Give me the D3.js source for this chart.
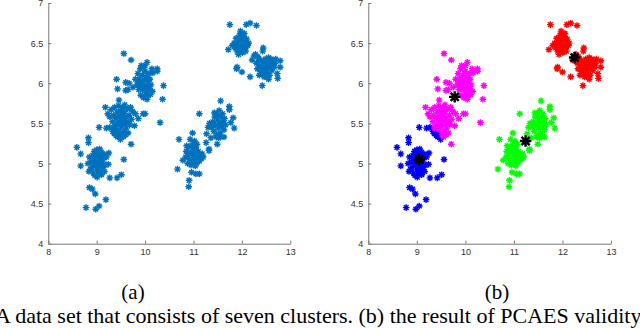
<!DOCTYPE html>
<html>
<head>
<meta charset="utf-8">
<script src="https://cdn.jsdelivr.net/npm/d3@7"></script>
<style>
  body { margin: 0; background: #fff; }
  .tick text { font-family: "Liberation Sans", Arial, sans-serif; font-size: 9px; fill: #333; }
  .domain, .tick line { stroke: #777; }
  .caption { font-family: "Liberation Serif", "Times New Roman", serif; fill: #000; }
</style>
</head>
<body>
<script>
// cluster points, grouped by the colour they get in panel (b)
const blueGroup = [
  [8.59,5.20],[8.67,5.12],[8.67,4.97],[8.83,5.32],[8.83,5.26],[8.85,4.70],[8.91,4.68],[8.97,4.62],
  [8.78,4.45],[8.98,4.43],[9.05,4.47],[9.19,4.55],[9.25,5.13],[9.24,4.99],[9.27,4.82],[9.42,4.82],
  [9.51,4.86],[9.56,5.05],[9.17,5.11],[9.20,5.08],
  [8.85,5.08],[8.88,5.02],[8.90,4.95],[8.92,5.10],[8.95,5.15],[8.97,5.05],[8.98,4.98],[9.00,5.17],
  [9.02,5.12],[9.03,5.03],[9.05,4.96],[9.07,5.08],[9.08,4.90],[9.10,5.14],[9.12,5.02],[9.13,4.95],
  [9.15,5.07],[8.93,4.88],[8.96,4.85],[9.00,4.92],[9.04,4.87],[9.10,4.86],[8.87,4.93],[8.95,5.00],
  [9.00,5.05],[9.06,5.18],[8.99,5.11],[9.09,5.00],[8.82,5.00],[8.84,4.90],[9.18,4.98],[9.16,4.90],
  [9.01,4.83],[8.94,5.06],[9.11,5.09],
  [9.05,5.45],[9.20,5.44],[9.27,5.45],[9.33,5.40],[9.36,5.37],[9.42,5.38],[9.45,5.36],[9.43,5.33],
  [9.40,5.35],[9.38,5.41],[9.49,5.30]
];

const magentaGroup = [
  [9.18,5.70],[9.46,5.79],[9.71,5.24],[9.78,5.47],[9.74,5.65],[9.86,5.56],[10.00,5.62],[9.96,5.62],
  [9.23,5.62],[9.27,5.58],[9.30,5.67],[9.33,5.52],[9.35,5.60],[9.37,5.70],[9.39,5.47],[9.40,5.56],
  [9.42,5.64],[9.44,5.50],[9.45,5.72],[9.46,5.42],[9.47,5.58],[9.49,5.66],[9.50,5.52],[9.51,5.46],
  [9.52,5.61],[9.53,5.70],[9.55,5.55],[9.56,5.40],[9.57,5.49],[9.58,5.65],[9.60,5.58],[9.61,5.44],
  [9.62,5.52],[9.64,5.68],[9.65,5.38],[9.67,5.60],[9.68,5.48],[9.70,5.70],[9.72,5.55],[9.52,5.36],
  [9.55,5.33],[9.60,5.36],[9.48,5.50],[9.36,5.44],[9.58,5.73],[9.66,5.52],[9.80,5.62],[9.43,5.58],
  [9.54,5.62],
  [9.41,6.05],[9.43,5.93],[9.60,6.01],[9.60,5.91],[9.56,6.37],[9.71,6.29],[10.04,6.26],[10.25,6.18],
  [10.25,6.15],[10.38,5.97],[10.36,5.80],[10.31,5.51],[10.16,6.13],[9.67,6.00],[9.65,5.92],[9.75,5.95],
  [9.80,6.05],[9.83,5.98],[9.85,6.12],[9.87,5.92],[9.88,6.05],[9.90,6.18],[9.91,5.85],[9.93,6.00],
  [9.94,6.10],[9.95,5.92],[9.96,6.20],[9.97,5.82],[9.98,6.04],[10.00,6.15],[10.01,5.88],[10.02,5.97],
  [10.03,6.08],[10.05,5.85],[10.06,6.02],[10.08,6.12],[10.09,5.93],[10.10,6.05],[10.12,5.98],[10.14,6.18],
  [10.15,5.90],[9.92,6.22],[10.00,6.22],[10.04,5.80],[9.89,5.96],[10.07,5.93],[9.86,6.00],[10.11,5.86],
  [9.99,5.95]
];

const greenGroup = [
  [10.70,5.30],[10.67,4.93],[10.91,4.79],[10.90,4.71],[10.96,4.89],[11.05,4.87],[11.12,4.87],[10.98,5.38],
  [11.12,5.62],[10.84,5.08],[10.78,5.04],[10.93,5.30],[11.02,5.28],
  [10.85,5.15],[10.88,5.10],[10.90,5.20],[10.92,5.05],[10.94,5.14],[10.96,5.22],[10.97,5.02],[10.99,5.10],
  [11.00,5.17],[11.02,5.05],[11.03,5.12],[11.05,5.20],[11.06,5.00],[11.08,5.08],[11.10,5.15],[11.12,5.03],
  [11.14,5.10],[11.16,5.06],[11.18,5.12],[10.95,4.98],[11.00,5.25],[11.07,5.24],[10.88,5.00],[11.04,4.97],
  [11.20,5.08],[10.86,5.22],
  [11.56,5.78],[11.74,5.71],[11.74,5.67],[11.82,5.57],[11.77,5.51],[11.84,5.44],[11.49,5.24],[11.32,5.16],
  [11.32,5.18],[11.27,5.37],[11.36,5.32],[11.63,5.33],[11.26,5.26],[11.30,5.45],[11.33,5.50],
  [11.38,5.45],[11.40,5.52],[11.42,5.40],[11.44,5.58],[11.45,5.48],[11.47,5.62],[11.48,5.35],[11.50,5.54],
  [11.51,5.44],[11.53,5.66],[11.54,5.50],[11.55,5.38],[11.57,5.58],[11.58,5.46],[11.60,5.62],[11.61,5.52],
  [11.63,5.42],[11.64,5.56],[11.52,5.32],[11.47,5.33],[11.56,5.33],[11.66,5.48],[11.43,5.63],[11.50,5.60]
];

const redGroup = [
  [11.75,6.73],[12.09,6.73],[12.17,6.75],[12.30,6.72],[11.72,6.42],[11.89,6.18],[11.90,6.20],[12.00,6.14],
  [12.17,6.08],[11.97,6.65],[12.05,6.62],[11.80,6.47],
  [11.84,6.50],[11.86,6.44],[11.88,6.56],[11.90,6.40],[11.92,6.52],[11.94,6.46],[11.95,6.60],[11.97,6.42],
  [11.98,6.54],[12.00,6.48],[12.01,6.38],[12.03,6.58],[12.04,6.45],[12.06,6.52],[12.08,6.40],[12.10,6.55],
  [12.12,6.47],[12.14,6.50],[11.93,6.36],[12.02,6.62],[11.88,6.48],[12.07,6.44],
  [12.44,6.44],[12.43,6.40],[12.21,6.29],[12.55,6.05],[12.42,5.97],[12.79,6.28],[12.79,6.20],[12.73,6.12],
  [12.74,6.06],[12.25,6.34],[12.28,6.36],[12.33,6.33],
  [12.30,6.25],[12.32,6.18],[12.35,6.30],[12.37,6.22],[12.39,6.15],[12.40,6.28],[12.42,6.20],[12.44,6.12],
  [12.45,6.26],[12.47,6.18],[12.48,6.30],[12.50,6.22],[12.52,6.14],[12.53,6.27],[12.55,6.19],[12.57,6.10],
  [12.58,6.24],[12.60,6.30],[12.62,6.16],[12.63,6.22],[12.65,6.28],[12.68,6.25],[12.70,6.30],[12.36,6.10],
  [12.46,6.08],[12.55,6.32],[12.67,6.20],[12.50,6.10]
];

const centers = [[9.05,5.05],[9.78,5.83],[11.24,5.28],[12.25,6.32]];

const xTicks = [8, 9, 10, 11, 12, 13];
const yTicks = [4, 4.5, 5, 5.5, 6, 6.5, 7];
const panelLabels = ['(a)', '(b)'];
const captionText = 'A data set that consists of seven clusters. (b) the result of PCAES validity';

const W = 640, H = 328;
const svg = d3.select('body').append('svg').attr('width', W).attr('height', H);

// matlab style '*' marker: plus + cross
const asterisk = {
  draw(ctx, size) {
    const r = Math.sqrt(size) / 2;
    const d = r * Math.SQRT1_2;
    ctx.moveTo(-r, 0); ctx.lineTo(r, 0);
    ctx.moveTo(0, -r); ctx.lineTo(0, r);
    ctx.moveTo(-d, -d); ctx.lineTo(d, d);
    ctx.moveTo(-d, d); ctx.lineTo(d, -d);
  }
};
const smallStar = d3.symbol().type(asterisk).size(44);
const bigStar = d3.symbol().type(asterisk).size(130);

const panels = [
  { left: 48.3, right: 290.3, groups: [[blueGroup, '#0072BD'], [magentaGroup, '#0072BD'], [greenGroup, '#0072BD'], [redGroup, '#0072BD']], showCenters: false },
  { left: 368.3, right: 611, groups: [[blueGroup, '#0000FF'], [magentaGroup, '#FF00FF'], [greenGroup, '#00FF00'], [redGroup, '#FF0000']], showCenters: true }
];
const plotTop = 3, plotBottom = 243.7;

panels.forEach((p, i) => {
  const x = d3.scaleLinear().domain([8, 13]).range([p.left, p.right]);
  const y = d3.scaleLinear().domain([4, 7]).range([plotBottom, plotTop]);

  const g = svg.append('g');

  g.append('g')
    .attr('transform', `translate(0,${plotBottom})`)
    .call(d3.axisBottom(x).tickValues(xTicks).tickFormat(d3.format('d')).tickSizeInner(-3).tickSizeOuter(0).tickPadding(5));

  g.append('g')
    .attr('transform', `translate(${p.left},0)`)
    .call(d3.axisLeft(y).tickValues(yTicks).tickFormat(d3.format('~g')).tickSizeInner(-3).tickSizeOuter(0).tickPadding(5));

  p.groups.forEach(([pts, color]) => {
    g.append('g').selectAll('path')
      .data(pts)
      .join('path')
      .attr('transform', d => `translate(${x(d[0])},${y(d[1])})`)
      .attr('d', smallStar)
      .attr('fill', 'none')
      .attr('stroke', color)
      .attr('stroke-width', 1.4);
  });

  if (p.showCenters) {
    g.append('g').selectAll('path')
      .data(centers)
      .join('path')
      .attr('transform', d => `translate(${x(d[0])},${y(d[1])})`)
      .attr('d', bigStar)
      .attr('fill', 'none')
      .attr('stroke', '#000')
      .attr('stroke-width', 2.4);
  }

  svg.append('text')
    .attr('class', 'caption')
    .attr('x', i === 0 ? 133 : 497)
    .attr('y', 299)
    .attr('text-anchor', 'middle')
    .style('font-size', '21px')
    .text(panelLabels[i]);
});

svg.append('text')
  .attr('class', 'caption')
  .attr('x', -5)
  .attr('y', 323)
  .style('font-size', '22px')
  .text(captionText);
</script>
</body>
</html>
